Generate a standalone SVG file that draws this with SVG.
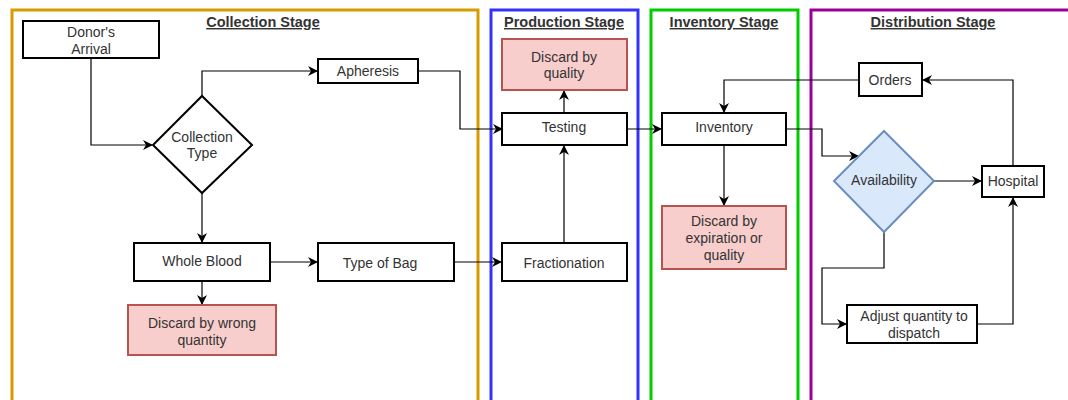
<svg xmlns="http://www.w3.org/2000/svg" width="1068" height="400" viewBox="0 0 1068 400">
<defs>
<marker id="arr" viewBox="0 0 10 10" refX="9" refY="5" markerWidth="10" markerHeight="10" markerUnits="userSpaceOnUse" orient="auto">
<path d="M0,0 L10,5 L0,10 L3,5 Z" fill="#000"/>
</marker>
</defs>
<style>
.frame{fill:none;stroke-width:3}
.title{font-family:"Liberation Sans",Arial,sans-serif;font-size:14.5px;font-weight:bold;fill:#333;text-anchor:middle;text-decoration:underline}
.box{fill:#fff;stroke:#000;stroke-width:2}
.red{fill:#f8cecc;stroke:#b85450;stroke-width:2}
.blue{fill:#dae8fc;stroke:#6c8ebf;stroke-width:2}
.t{font-family:"Liberation Sans",Arial,sans-serif;font-size:14px;fill:#333;text-anchor:middle}
.c{fill:none;stroke:#000;stroke-width:1.2;marker-end:url(#arr)}
</style>
<rect width="1068" height="400" fill="#fff"/>
<g id="frames">
<path class="frame" stroke="#d79b00" d="M12,402 V10 H478 V402"/>
<path class="frame" stroke="#3333ff" d="M491,402 V10 H638 V402"/>
<path class="frame" stroke="#00cc00" d="M651,402 V10 H798 V402"/>
<path class="frame" stroke="#990099" d="M811,402 V10 H1070"/>
<text class="title" x="263" y="27">Collection Stage</text>
<text class="title" x="564" y="27">Production Stage</text>
<text class="title" x="724" y="27">Inventory Stage</text>
<text class="title" x="933" y="27">Distribution Stage</text>
</g>
<g id="connectors">
<path class="c" d="M91,58 V145 H152"/>
<path class="c" d="M202,96 V71 H317"/>
<path class="c" d="M418,71 H460 V129 H502"/>
<path class="c" d="M202,193 V242"/>
<path class="c" d="M202,281 V304"/>
<path class="c" d="M270,262 H317"/>
<path class="c" d="M454,262 H501"/>
<path class="c" d="M564,243 V146"/>
<path class="c" d="M564,113 V91"/>
<path class="c" d="M627,129 H661"/>
<path class="c" d="M724,145 V205"/>
<path class="c" d="M859,80 H724 V112"/>
<path class="c" d="M1013,166 V80 H923"/>
<path class="c" d="M786,129 H822 V156 H858"/>
<path class="c" d="M934,181 H981"/>
<path class="c" d="M884,232 V268 H822 V324 H846"/>
<path class="c" d="M977,324 H1013 V198"/>
</g>
<g id="donor"><rect class="box" x="23" y="21" width="136" height="37"/><text class="t" x="91" y="37">Donor's</text><text class="t" x="91" y="54">Arrival</text></g>
<g id="collection-type"><polygon class="box" points="202,96 252,145 202,193 153,145"/><text class="t" x="202" y="142">Collection</text><text class="t" x="202" y="158">Type</text></g>
<g id="apheresis"><rect class="box" x="318" y="59" width="100" height="24"/><text class="t" x="368" y="76">Apheresis</text></g>
<g id="whole-blood"><rect class="box" x="134" y="243" width="136" height="38"/><text class="t" x="202" y="266">Whole Blood</text></g>
<g id="discard-wrong"><rect class="red" x="128" y="305" width="148" height="50"/><text class="t" x="202" y="328">Discard by wrong</text><text class="t" x="202" y="345">quantity</text></g>
<g id="type-of-bag"><rect class="box" x="318" y="243" width="136" height="38"/><text class="t" x="380" y="268">Type of Bag</text></g>
<g id="discard-quality"><rect class="red" x="502" y="39" width="125" height="51"/><text class="t" x="564" y="62">Discard by</text><text class="t" x="564" y="78">quality</text></g>
<g id="testing"><rect class="box" x="502" y="113" width="125" height="32"/><text class="t" x="564" y="132">Testing</text></g>
<g id="fractionation"><rect class="box" x="502" y="243" width="125" height="38"/><text class="t" x="564" y="268">Fractionation</text></g>
<g id="inventory"><rect class="box" x="662" y="113" width="124" height="32"/><text class="t" x="724" y="132">Inventory</text></g>
<g id="discard-expiration"><rect class="red" x="662" y="206" width="124" height="63"/><text class="t" x="724" y="226">Discard by</text><text class="t" x="724" y="243">expiration or</text><text class="t" x="724" y="260">quality</text></g>
<g id="orders"><rect class="box" x="859" y="63" width="63" height="33"/><text class="t" x="890" y="85">Orders</text></g>
<g id="availability"><polygon class="blue" points="884,131 934,181 884,232 834,181"/><text class="t" x="884" y="185">Availability</text></g>
<g id="hospital"><rect class="box" x="982" y="166" width="62" height="31"/><text class="t" x="1013" y="186">Hospital</text></g>
<g id="adjust"><rect class="box" x="847" y="305" width="130" height="38"/><text class="t" x="914" y="321">Adjust quantity to</text><text class="t" x="914" y="338">dispatch</text></g>
</svg>
